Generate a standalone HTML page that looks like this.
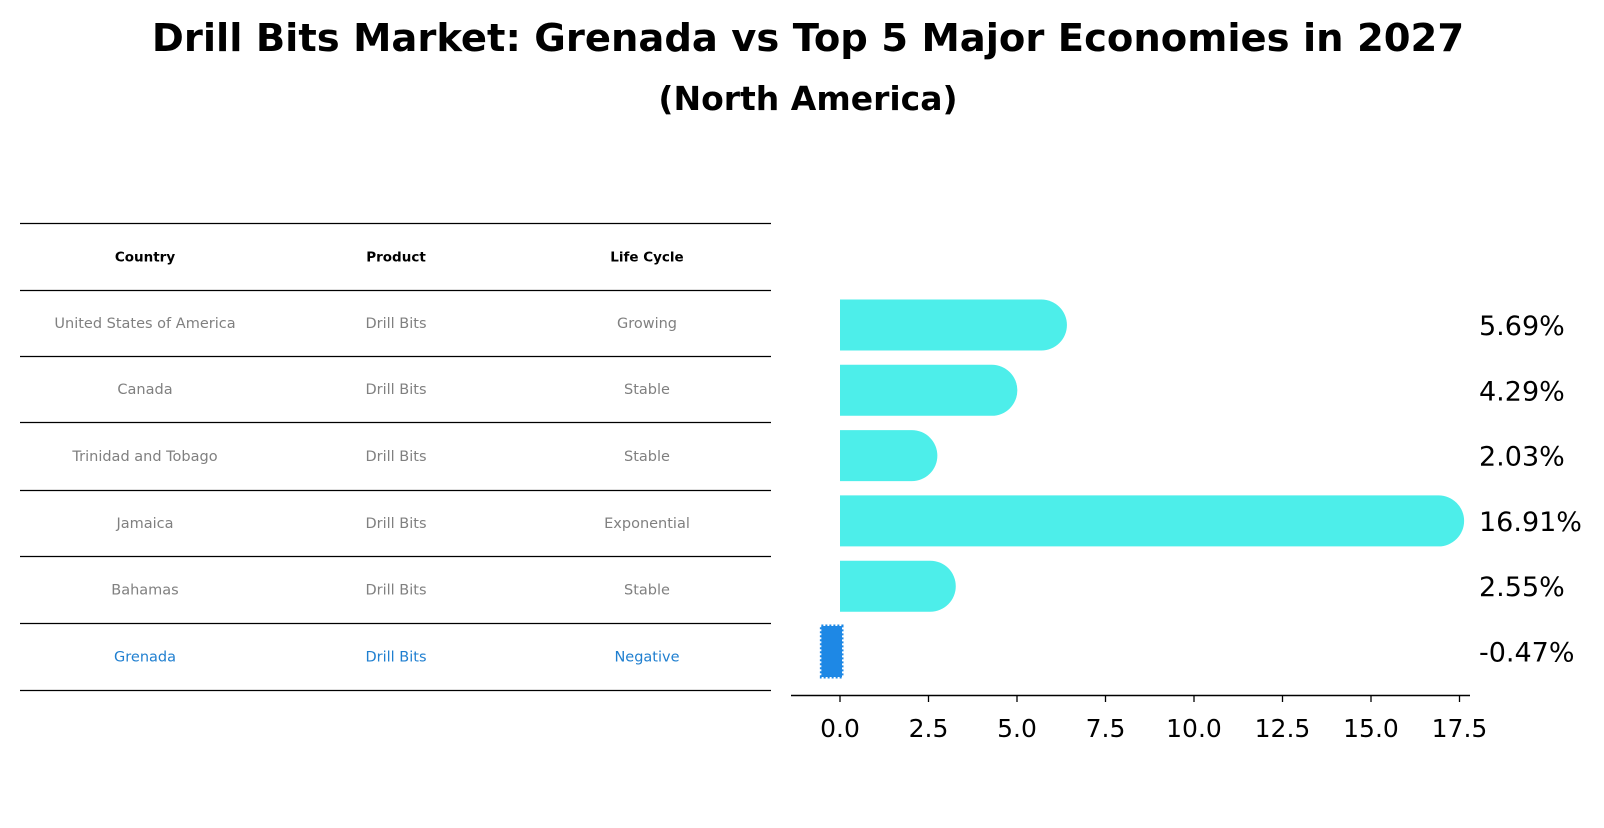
<!DOCTYPE html>
<html><head><meta charset="utf-8"><style>
body{margin:0;background:#fff;font-family:"Liberation Sans","DejaVu Sans",sans-serif;}
</style></head><body>
<svg width="1604" height="823" xmlns="http://www.w3.org/2000/svg" style="font-family:'DejaVu Sans','Liberation Sans',sans-serif">
<text x="808" y="51" text-anchor="middle" font-size="38.5" font-weight="bold">Drill Bits Market: Grenada vs Top 5 Major Economies in 2027</text>
<text x="808" y="110" text-anchor="middle" font-size="33" font-weight="bold">(North America)</text>
<g id="table"></g>
<g id="bars"></g>
</svg>
<script>
const countries=["United States of America","Canada","Trinidad and Tobago","Jamaica","Bahamas","Grenada"];
const products=["Drill Bits","Drill Bits","Drill Bits","Drill Bits","Drill Bits","Drill Bits"];
const lifeCycles=["Growing","Stable","Stable","Exponential","Stable","Negative"];
const values=[5.69,4.29,2.03,16.91,2.55,-0.47];
const ticks=[0,2.5,5,7.5,10,12.5,15,17.5];
const NS="http://www.w3.org/2000/svg";
function mk(tag,attrs,parent,text){const e=document.createElementNS(NS,tag);for(const k in attrs)e.setAttribute(k,attrs[k]);if(text!==undefined)e.textContent=text;parent.appendChild(e);return e;}
const tbl=document.getElementById('table');
const lines=[223,290,356,422,490,556,623,690];
lines.forEach(y=>{const l=mk('line',{x1:20,x2:771,y1:y+0.5,y2:y+0.5,stroke:'#000','stroke-width':1.2},tbl);

});
const cols=[145,396,647];
["Country","Product","Life Cycle"].forEach((h,i)=>{const t=mk('text',{x:cols[i],y:(lines[0]+lines[1])/2+5,'text-anchor':'middle','font-size':13.5,'font-weight':'bold'},tbl,h);

});
countries.forEach((c,r)=>{const y=(lines[r+1]+lines[r+2])/2+5;const col=c==="Grenada"?"#1f7fd0":"#808080";
[c,products[r],lifeCycles[r]].forEach((v,i)=>{const t=mk('text',{x:cols[i],y:y,'text-anchor':'middle','font-size':14.5,fill:col},tbl,v);

});});
const g=document.getElementById('bars');
const x0=840,ppu=35.4;const X=v=>x0+v*ppu;
const yc=i=>325+i*65.3;const bh=51;
values.forEach((v,i)=>{const y=yc(i)-bh/2;let b;
if(v>=0){const w=X(v)-x0;const r=bh/2;
b=mk('path',{d:`M${x0},${y} H${x0+w} A${r},${r} 0 0 1 ${x0+w},${y+bh} H${x0} Z`,fill:'#4deeea'},g);}
else{b=mk('rect',{x:X(v)-2,y:y,width:x0-X(v)+4,height:bh,fill:'#1e88e5',stroke:'#1e88e5','stroke-width':3,'stroke-dasharray':'2,2'},g);}


const t=mk('text',{x:1479,y:yc(i)+10,'font-size':27},g,v.toFixed(2)+'%');

});
const ax=mk('line',{x1:791,x2:1470,y1:695.5,y2:695.5,stroke:'#000','stroke-width':1.6},g);


ticks.forEach(v=>{const tk=mk('line',{x1:X(v),x2:X(v),y1:695,y2:702,stroke:'#000','stroke-width':1.3},g);


const t=mk('text',{x:X(v),y:737,'text-anchor':'middle','font-size':25},g,v.toFixed(1));

});
</script>
</body></html>
